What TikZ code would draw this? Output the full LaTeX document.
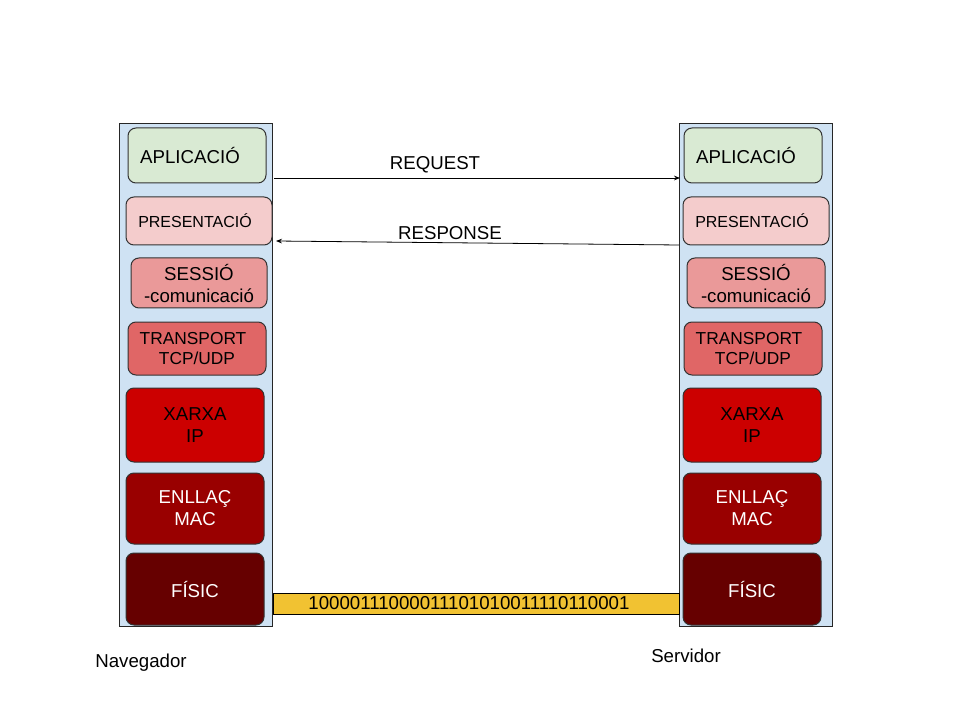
\documentclass[tikz,border=0pt]{standalone}
\usepackage{fontspec}
\setmainfont{Liberation Sans}
\usetikzlibrary{arrows.meta}

\definecolor{colfill}{HTML}{CFE2F3}
\definecolor{aplfill}{HTML}{D9EAD3}
\definecolor{prefill}{HTML}{F4CCCC}
\definecolor{sesfill}{HTML}{EA9999}
\definecolor{trafill}{HTML}{E06666}
\definecolor{xarfill}{HTML}{CC0000}
\definecolor{enlfill}{HTML}{990000}
\definecolor{fisfill}{HTML}{660000}
\definecolor{bitfill}{HTML}{F1C232}

\tikzset{
  sz/.style 2 args={minimum width=#1*0.75pt, minimum height=#2*0.75pt},
  column/.style={rectangle, draw=black!85, fill=colfill, line width=0.75pt, inner sep=0pt},
  layer/.style={rectangle, draw=black!80, line width=0.75pt, rounded corners=6pt,
    inner sep=0pt, align=center},
  msg/.style={-{Stealth[length=4.5pt, width=3.5pt]}, line width=0.6pt},
  label/.style={font=\fontsize{14}{16.5}\selectfont},
}

\begin{document}
\begin{tikzpicture}[x=0.75pt, y=-0.75pt, font=\fontsize{14}{16.5}\selectfont]
  \useasboundingbox (0,0) rectangle (960,720);

  % Columnes
  \node[column, sz={153}{502}] (colnav) at (195.5, 375) {};
  \node[column, sz={153}{502}] (colsrv) at (755.5, 375) {};

  % Capes del navegador
  \node[layer, sz={138}{55}, fill=aplfill] (aplnav) at (197, 155.5) {APLICACIÓ\hspace*{10.5pt}};
  \node[layer, sz={146}{48}, fill=prefill, font=\fontsize{12}{14}\selectfont] (prenav) at (199, 221) {PRESENTACIÓ\hspace*{6pt}};
  \node[layer, sz={136}{50}, fill=sesfill] (sesnav) at (199, 283) {SESSIÓ\\-comunicació};
  \node[layer, sz={138}{53}, fill=trafill, font=\fontsize{13}{15.5}\selectfont] (tranav) at (197, 348.5) {TRANSPORT\hspace*{6pt}\\TCP/UDP};
  \node[layer, sz={138}{74}, fill=xarfill] (xarnav) at (195, 425) {XARXA\\IP};
  \node[layer, sz={138}{71}, fill=enlfill, text=white] (enlnav) at (195, 508.5) {ENLLAÇ\\MAC};
  \node[layer, sz={138}{72}, fill=fisfill, text=white] (fisnav) at (195, 589) {FÍSIC};

  % Capes del servidor
  \node[layer, sz={138}{55}, fill=aplfill] (aplsrv) at (753, 155.5) {APLICACIÓ\hspace*{10.5pt}};
  \node[layer, sz={146}{48}, fill=prefill, font=\fontsize{12}{14}\selectfont] (presrv) at (756, 221) {PRESENTACIÓ\hspace*{6pt}};
  \node[layer, sz={138}{50}, fill=sesfill] (sessrv) at (756, 283) {SESSIÓ\\-comunicació};
  \node[layer, sz={138}{53}, fill=trafill, font=\fontsize{13}{15.5}\selectfont] (trasrv) at (753, 348.5) {TRANSPORT\hspace*{6pt}\\TCP/UDP};
  \node[layer, sz={138}{74}, fill=xarfill] (xarsrv) at (752, 425) {XARXA\\IP};
  \node[layer, sz={138}{71}, fill=enlfill, text=white] (enlsrv) at (752, 508.5) {ENLLAÇ\\MAC};
  \node[layer, sz={138}{72}, fill=fisfill, text=white] (fissrv) at (752, 589) {FÍSIC};

  % Missatges
  \coordinate (reqa) at (274, 178);
  \coordinate (reqb) at (680, 178);
  \coordinate (resa) at (679, 245);
  \coordinate (resb) at (276, 241);
  \draw[msg] (reqa) -- (reqb);
  \draw[msg] (resa) -- (resb);
  \node (req) at (435, 165) {REQUEST};
  \node (res) at (450, 233) {RESPONSE};

  % Medi fisic
  \node[rectangle, draw=black, fill=bitfill, line width=0.75pt, sz={406}{21}, inner sep=0pt]
    (bits) at (476, 603.5) {10000111000011101010011110110001\hspace*{10.5pt}};

  % Noms
  \node[label] (nav) at (141, 663) {Navegador};
  \node[label] (srv) at (686, 656) {Servidor};
\end{tikzpicture}
\end{document}
